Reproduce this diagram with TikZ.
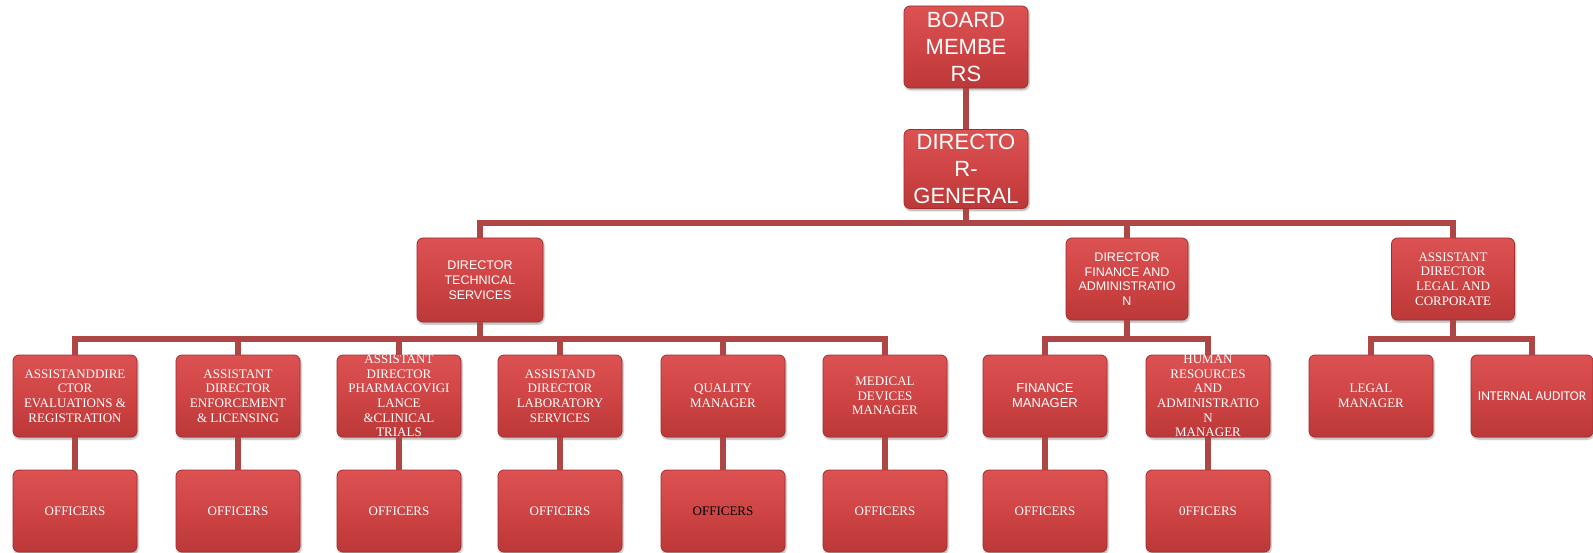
\documentclass[tikz,border=0pt]{standalone}
\usepackage{fontspec}
\setmainfont{Liberation Serif}
\newfontfamily\arialf{Liberation Sans}
\newfontfamily\calf{Carlito}
\usetikzlibrary{shadows.blur}
\definecolor{boxtop}{HTML}{DC5252}
\definecolor{boxmid}{HTML}{CF4444}
\definecolor{boxbot}{HTML}{BC3838}
\definecolor{boxrim}{HTML}{A42E2E}
\definecolor{linkc}{HTML}{AE4646}
\tikzset{
 orgbox/.style={rounded corners=6pt, draw=boxrim, line width=0.8pt,
   top color=boxtop, bottom color=boxbot, middle color=boxmid,
   minimum width=124pt, minimum height=82pt, text=white, align=center, inner sep=0pt,
   blur shadow={shadow xshift=1pt, shadow yshift=-2pt, shadow blur steps=5, shadow opacity=35}},
 link/.style={draw=linkc, line width=6pt, line join=miter},
 bigtxt/.style={font=\arialf\fontsize{22}{27}\selectfont},
 sanstxt/.style={font=\arialf\fontsize{12.5}{14.7}\selectfont},
 sertxt/.style={font=\fontsize{13}{14.6}\selectfont},
}
\begin{document}
\begin{tikzpicture}[x=1pt,y=-1pt]
\useasboundingbox (0,0) rectangle (1593,553);
% top
\node[orgbox,bigtxt,minimum height=82pt] (board) at (966,47) {BOARD\\MEMBE\\RS};
\node[orgbox,bigtxt,minimum height=79pt] (dg) at (966,169) {DIRECTO\\R-\\GENERAL};
% level 2
\node[orgbox,sanstxt,minimum width=126pt,minimum height=84pt] (tech) at (480,280) {DIRECTOR\\TECHNICAL\\SERVICES};
\node[orgbox,sanstxt,minimum width=122pt] (fin) at (1127,279) {DIRECTOR\\FINANCE AND\\ADMINISTRATIO\\N};
\node[orgbox,sertxt,minimum width=123pt] (legal) at (1453,279) {ASSISTANT\\DIRECTOR\\LEGAL AND\\CORPORATE};
% level 3
\node[orgbox,sertxt] (a1) at (75,396) {ASSISTANDDIRE\\CTOR\\EVALUATIONS \&\\REGISTRATION};
\node[orgbox,sertxt] (a2) at (238,396) {\raisebox{5pt}{\parbox{120pt}{\centering ASSISTANT\\DIRECTOR\\ENFORCEMENT\\\& LICENSING}}};
\node[orgbox,sertxt] (a3) at (399,396) {ASSISTANT\\DIRECTOR\\PHARMACOVIGI\\LANCE\\\&CLINICAL\\TRIALS};
\node[orgbox,sertxt] (a4) at (560,396) {ASSISTAND\\DIRECTOR\\LABORATORY\\SERVICES};
\node[orgbox,sertxt] (a5) at (723,396) {QUALITY\\MANAGER};
\node[orgbox,sertxt] (a6) at (885,396) {MEDICAL\\DEVICES\\MANAGER};
\node[orgbox,font=\arialf\fontsize{13}{15}\selectfont] (f1) at (1045,396) {FINANCE\\MANAGER};
\node[orgbox,sertxt] (f2) at (1208,396) {HUMAN\\RESOURCES\\AND\\ADMINISTRATIO\\N\\MANAGER};
\node[orgbox,sertxt] (l1) at (1371,396) {LEGAL\\MANAGER};
\node[orgbox,font=\calf\fontsize{13.5}{15}\selectfont,minimum width=122pt] (l2) at (1532,396) {INTERNAL AUDITOR};
% officers
\node[orgbox,sertxt] (o1) at (75,511) {OFFICERS};
\node[orgbox,sertxt] (o2) at (238,511) {OFFICERS};
\node[orgbox,sertxt] (o3) at (399,511) {OFFICERS};
\node[orgbox,sertxt] (o4) at (560,511) {OFFICERS};
\node[orgbox,sertxt,text=black] (o5) at (723,511) {OFFICERS};
\node[orgbox,sertxt] (o6) at (885,511) {OFFICERS};
\node[orgbox,sertxt] (o7) at (1045,511) {OFFICERS};
\node[orgbox,sertxt] (o8) at (1208,511) {0FFICERS};
% connectors
\coordinate (bus1) at (966,223);
\coordinate (bus2) at (480,339);
\draw[link] (board.south) -- (dg.north);
\draw[link] (dg.south) -- (dg.south |- bus1);
\draw[link] (tech.north) -- (tech.north |- bus1) -- (legal.north |- bus1) -- (legal.north);
\draw[link] (fin.north |- bus1) -- (fin.north);
\draw[link] (tech.south) -- (tech.south |- bus2);
\draw[link] (a1.north) -- (a1.north |- bus2) -- (a6.north |- bus2) -- (a6.north);
\foreach \n in {a2,a3,a4,a5} \draw[link] (\n.north |- bus2) -- (\n.north);
\draw[link] (fin.south) -- (fin.south |- bus2);
\draw[link] (f1.north) -- (f1.north |- bus2) -- (f2.north |- bus2) -- (f2.north);
\draw[link] (legal.south) -- (legal.south |- bus2);
\draw[link] (l1.north) -- (l1.north |- bus2) -- (l2.north |- bus2) -- (l2.north);
\foreach \a/\o in {a1/o1,a2/o2,a3/o3,a4/o4,a5/o5,a6/o6,f1/o7,f2/o8} \draw[link] (\a.south) -- (\o.north);
\end{tikzpicture}
\end{document}
